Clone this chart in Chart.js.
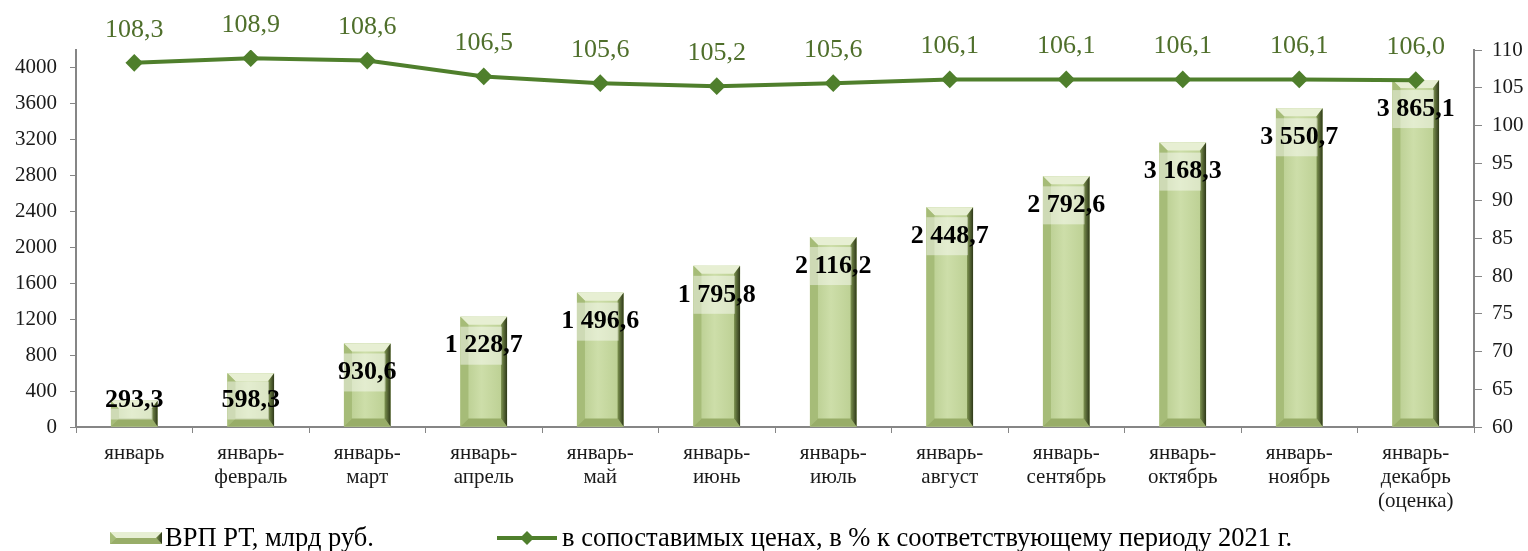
<!DOCTYPE html>
<html>
<head>
<meta charset="utf-8">
<script src="https://cdn.jsdelivr.net/npm/chart.js@4"></script>
<style>
  html, body { margin: 0; padding: 0; background: #fff; }
  #wrap { width: 1528px; height: 551px; }
</style>
</head>
<body>
<div id="wrap"><canvas id="grpChart" width="1528" height="551"></canvas></div>
<script>
const periods = [
    'январь',
    ['январь-', 'февраль'],
    ['январь-', 'март'],
    ['январь-', 'апрель'],
    ['январь-', 'май'],
    ['январь-', 'июнь'],
    ['январь-', 'июль'],
    ['январь-', 'август'],
    ['январь-', 'сентябрь'],
    ['январь-', 'октябрь'],
    ['январь-', 'ноябрь'],
    ['январь-', 'декабрь', '(оценка)']
];
const grpValues = [293.3, 598.3, 930.6, 1228.7, 1496.6, 1795.8, 2116.2, 2448.7, 2792.6, 3168.3, 3550.7, 3865.1];
const indexValues = [108.3, 108.9, 108.6, 106.5, 105.6, 105.2, 105.6, 106.1, 106.1, 106.1, 106.1, 106.0];
const leftTicks = [0, 400, 800, 1200, 1600, 2000, 2400, 2800, 3200, 3600, 4000];
const rightTicks = [60, 65, 70, 75, 80, 85, 90, 95, 100, 105, 110];
const grpLabel = 'ВРП РТ, млрд руб.';
const indexLabel = 'в сопоставимых ценах, в % к соответствующему периоду 2021 г.';

const serif = '"Liberation Serif", "Times New Roman", serif';
const lineColor = '#4f7f2c';
const axisColor = '#868686';

function fmt(v) {
    const parts = v.toFixed(1).split('.');
    const int = parts[0].replace(/\B(?=(\d{3})+(?!\d))/g, ' ');
    return int + ',' + parts[1];
}

function drawBevelBar(ctx, L, R, T, B) {
    const w = R - L;
    const h = B - T;
    const b = Math.min(8, h / 2, w / 2);
    const br = Math.min(6, h / 2, w / 2);
    // face
    const face = ctx.createLinearGradient(L, 0, R, 0);
    face.addColorStop(0, '#b4c98a');
    face.addColorStop(0.45, '#cddea9');
    face.addColorStop(1, '#b9cd8f');
    ctx.fillStyle = face;
    ctx.fillRect(L, T, w, h);
    // top bevel
    ctx.beginPath();
    ctx.moveTo(L, T); ctx.lineTo(R, T); ctx.lineTo(R - br, T + b); ctx.lineTo(L + b, T + b); ctx.closePath();
    ctx.fillStyle = '#e7efd3';
    ctx.fill();
    // left bevel
    ctx.beginPath();
    ctx.moveTo(L, T); ctx.lineTo(L + b, T + b); ctx.lineTo(L + b, B - b); ctx.lineTo(L, B); ctx.closePath();
    ctx.fillStyle = '#a6bc78';
    ctx.fill();
    // bottom bevel
    ctx.beginPath();
    ctx.moveTo(L, B); ctx.lineTo(L + b, B - b); ctx.lineTo(R - br, B - b); ctx.lineTo(R, B); ctx.closePath();
    ctx.fillStyle = '#98ad68';
    ctx.fill();
    // right bevel
    const rg = ctx.createLinearGradient(R - br, 0, R, 0);
    rg.addColorStop(0, '#7d9350');
    rg.addColorStop(1, '#2e3819');
    ctx.beginPath();
    ctx.moveTo(R, T); ctx.lineTo(R, B); ctx.lineTo(R - br, B - b); ctx.lineTo(R - br, T + b); ctx.closePath();
    ctx.fillStyle = rg;
    ctx.fill();
}

const bevelPlugin = {
    id: 'bevel',
    afterDatasetDraw(chart, args) {
        if (args.index !== 0) return;
        const ctx = chart.ctx;
        ctx.save();
        args.meta.data.forEach(function (bar) {
            const p = bar.getProps(['x', 'y', 'base', 'width'], true);
            drawBevelBar(ctx, p.x - p.width / 2, p.x + p.width / 2, p.y, p.base);
        });
        ctx.restore();
    }
};

const labelsPlugin = {
    id: 'valueLabels',
    afterDatasetsDraw(chart) {
        const ctx = chart.ctx;
        ctx.save();
        ctx.textAlign = 'center';
        ctx.textBaseline = 'middle';
        // bar labels with light band
        const barMeta = chart.getDatasetMeta(0);
        barMeta.data.forEach(function (bar, i) {
            const p = bar.getProps(['x', 'y', 'base', 'width'], true);
            const cy = Math.min(p.y + 29, p.base - 26);
            const bandTop = Math.max(cy - 19, p.y + 8);
            const bandBot = Math.min(cy + 19, p.base - 6);
            ctx.fillStyle = 'rgba(255,255,255,0.45)';
            ctx.fillRect(p.x - p.width / 2, bandTop, p.width - 5, bandBot - bandTop);
            ctx.fillStyle = '#000';
            ctx.font = 'bold 26px ' + serif;
            ctx.fillText(fmt(grpValues[i]), p.x, cy);
        });
        // line labels
        const lineMeta = chart.getDatasetMeta(1);
        ctx.fillStyle = '#4f6f2b';
        ctx.font = '26px ' + serif;
        lineMeta.data.forEach(function (pt, i) {
            ctx.fillText(fmt(indexValues[i]), pt.x, pt.y - 33);
        });
        ctx.restore();
    },
    afterDraw(chart) {
        const ctx = chart.ctx;
        const y = 538;
        ctx.save();
        drawBevelBar(ctx, 110, 162, y - 6, y + 6);
        ctx.font = '26.5px ' + serif;
        ctx.fillStyle = '#000';
        ctx.textBaseline = 'middle';
        ctx.textAlign = 'left';
        ctx.fillText(grpLabel, 165, y + 1);
        ctx.strokeStyle = lineColor;
        ctx.lineWidth = 4;
        ctx.beginPath();
        ctx.moveTo(497, y); ctx.lineTo(557, y);
        ctx.stroke();
        ctx.fillStyle = lineColor;
        ctx.beginPath();
        ctx.moveTo(527, y - 7); ctx.lineTo(534, y); ctx.lineTo(527, y + 7); ctx.lineTo(520, y); ctx.closePath();
        ctx.fill();
        ctx.fillStyle = '#000';
        ctx.fillText(indexLabel, 562, y + 1);
        ctx.restore();
    }
};

const ctx = document.getElementById('grpChart').getContext('2d');

new Chart(ctx, {
    type: 'bar',
    data: {
        labels: periods,
        datasets: [{
            label: grpLabel,
            data: grpValues,
            backgroundColor: '#c3d69b',
            categoryPercentage: 1,
            barPercentage: 0.4,
            yAxisID: 'y',
            order: 1
        }, {
            type: 'line',
            label: indexLabel,
            data: indexValues,
            borderColor: lineColor,
            backgroundColor: lineColor,
            borderWidth: 4,
            pointStyle: 'rectRot',
            pointRadius: 6,
            pointHoverRadius: 6,
            tension: 0,
            yAxisID: 'y1',
            order: 0
        }]
    },
    options: {
        responsive: false,
        animation: false,
        layout: { padding: { top: 50, left: 0, right: 0, bottom: 0 } },
        plugins: {
            legend: { display: false },
            tooltip: { enabled: false }
        },
        scales: {
            x: {
                grid: {
                    drawOnChartArea: false,
                    offset: true,
                    tickLength: 6,
                    color: axisColor
                },
                border: { color: axisColor, width: 2 },
                ticks: {
                    color: '#1a1a1a',
                    padding: 9,
                    maxRotation: 0,
                    autoSkip: false,
                    font: { family: serif, size: 21, lineHeight: 1.14 }
                },
                afterFit(scale) { scale.height = 124; }
            },
            y: {
                position: 'left',
                min: 0,
                max: 4200,
                grid: { drawOnChartArea: false, tickLength: 6, color: axisColor },
                border: { color: axisColor, width: 2 },
                ticks: {
                    color: '#1a1a1a',
                    padding: 13,
                    font: { family: serif, size: 21 },
                    callback: function (v) { return String(v); }
                },
                afterBuildTicks(scale) {
                    scale.ticks = leftTicks.map(function (v) { return { value: v }; });
                },
                afterFit(scale) { scale.width = 76; }
            },
            y1: {
                position: 'right',
                min: 60,
                max: 110,
                grid: { drawOnChartArea: false, tickLength: 8, color: axisColor },
                border: { color: axisColor, width: 2 },
                ticks: {
                    color: '#1a1a1a',
                    padding: 10,
                    font: { family: serif, size: 21 },
                    callback: function (v) { return String(v); }
                },
                afterBuildTicks(scale) {
                    scale.ticks = rightTicks.map(function (v) { return { value: v }; });
                },
                afterFit(scale) { scale.width = 54; }
            }
        }
    },
    plugins: [bevelPlugin, labelsPlugin]
});
</script>
</body>
</html>
